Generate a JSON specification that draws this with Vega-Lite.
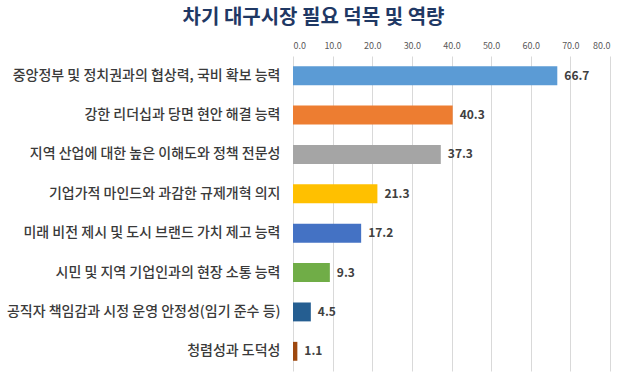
{
  "$schema": "https://vega.github.io/schema/vega-lite/v6.json",
  "autosize": "none",
  "width": 317,
  "height": 315,
  "padding": {"left": 293, "top": 56, "right": 17, "bottom": 4},
  "background": "white",
  "config": {"view": {"stroke": null}, "font": "Noto Sans CJK KR"},
  "title": {
    "text": "차기 대구시장 필요 덕목 및 역량",
    "font": "Noto Sans CJK KR",
    "fontSize": 20,
    "fontWeight": "bold",
    "color": "#1F3864",
    "anchor": "middle",
    "dx": -138,
    "offset": 13
  },
  "data": {
    "values": [
      {"item": "중앙정부 및 정치권과의 협상력, 국비 확보 능력", "value": 66.7},
      {"item": "강한 리더십과 당면 현안 해결 능력", "value": 40.3},
      {"item": "지역 산업에 대한 높은 이해도와 정책 전문성", "value": 37.3},
      {"item": "기업가적 마인드와 과감한 규제개혁 의지", "value": 21.3},
      {"item": "미래 비전 제시 및 도시 브랜드 가치 제고 능력", "value": 17.2},
      {"item": "시민 및 지역 기업인과의 현장 소통 능력", "value": 9.3},
      {"item": "공직자 책임감과 시정 운영 안정성(임기 준수 등)", "value": 4.5},
      {"item": "청렴성과 도덕성", "value": 1.1}
    ]
  },
  "encoding": {
    "y": {
      "field": "item",
      "type": "nominal",
      "sort": null,
      "scale": {"paddingInner": 0.52, "paddingOuter": 0.26},
      "axis": {
        "title": null,
        "ticks": false,
        "domain": false,
        "labelPadding": 13,
        "labelFontSize": 14,
        "labelFontWeight": 500,
        "labelColor": "#3A3A3A",
        "labelFont": "Noto Sans CJK KR",
        "labelLimit": 300
      }
    },
    "x": {
      "field": "value",
      "type": "quantitative",
      "scale": {"domain": [0, 80]},
      "axis": {
        "orient": "top",
        "title": null,
        "values": [0, 10, 20, 30, 40, 50, 60, 70, 80],
        "format": ".1f",
        "ticks": false,
        "domain": false,
        "grid": true,
        "gridColor": "#D9D9D9",
        "gridWidth": 1,
        "labelFontSize": 9,
        "labelColor": "#595959",
        "labelPadding": 6,
        "labelFont": "Noto Sans CJK KR"
      }
    }
  },
  "layer": [
    {
      "mark": {"type": "bar"},
      "encoding": {
        "color": {
          "field": "item",
          "type": "nominal",
          "legend": null,
          "scale": {
            "domain": [
              "중앙정부 및 정치권과의 협상력, 국비 확보 능력",
              "강한 리더십과 당면 현안 해결 능력",
              "지역 산업에 대한 높은 이해도와 정책 전문성",
              "기업가적 마인드와 과감한 규제개혁 의지",
              "미래 비전 제시 및 도시 브랜드 가치 제고 능력",
              "시민 및 지역 기업인과의 현장 소통 능력",
              "공직자 책임감과 시정 운영 안정성(임기 준수 등)",
              "청렴성과 도덕성"
            ],
            "range": ["#5B9BD5", "#ED7D31", "#A5A5A5", "#FFC000", "#4472C4", "#70AD47", "#255E91", "#9E480E"]
          }
        }
      }
    },
    {
      "mark": {"type": "text", "align": "left", "baseline": "middle", "dx": 7, "fontSize": 12, "fontWeight": "bold", "color": "#404040", "font": "Noto Sans CJK KR"},
      "encoding": {
        "text": {"field": "value", "type": "quantitative", "format": ".1f"}
      }
    }
  ]
}
